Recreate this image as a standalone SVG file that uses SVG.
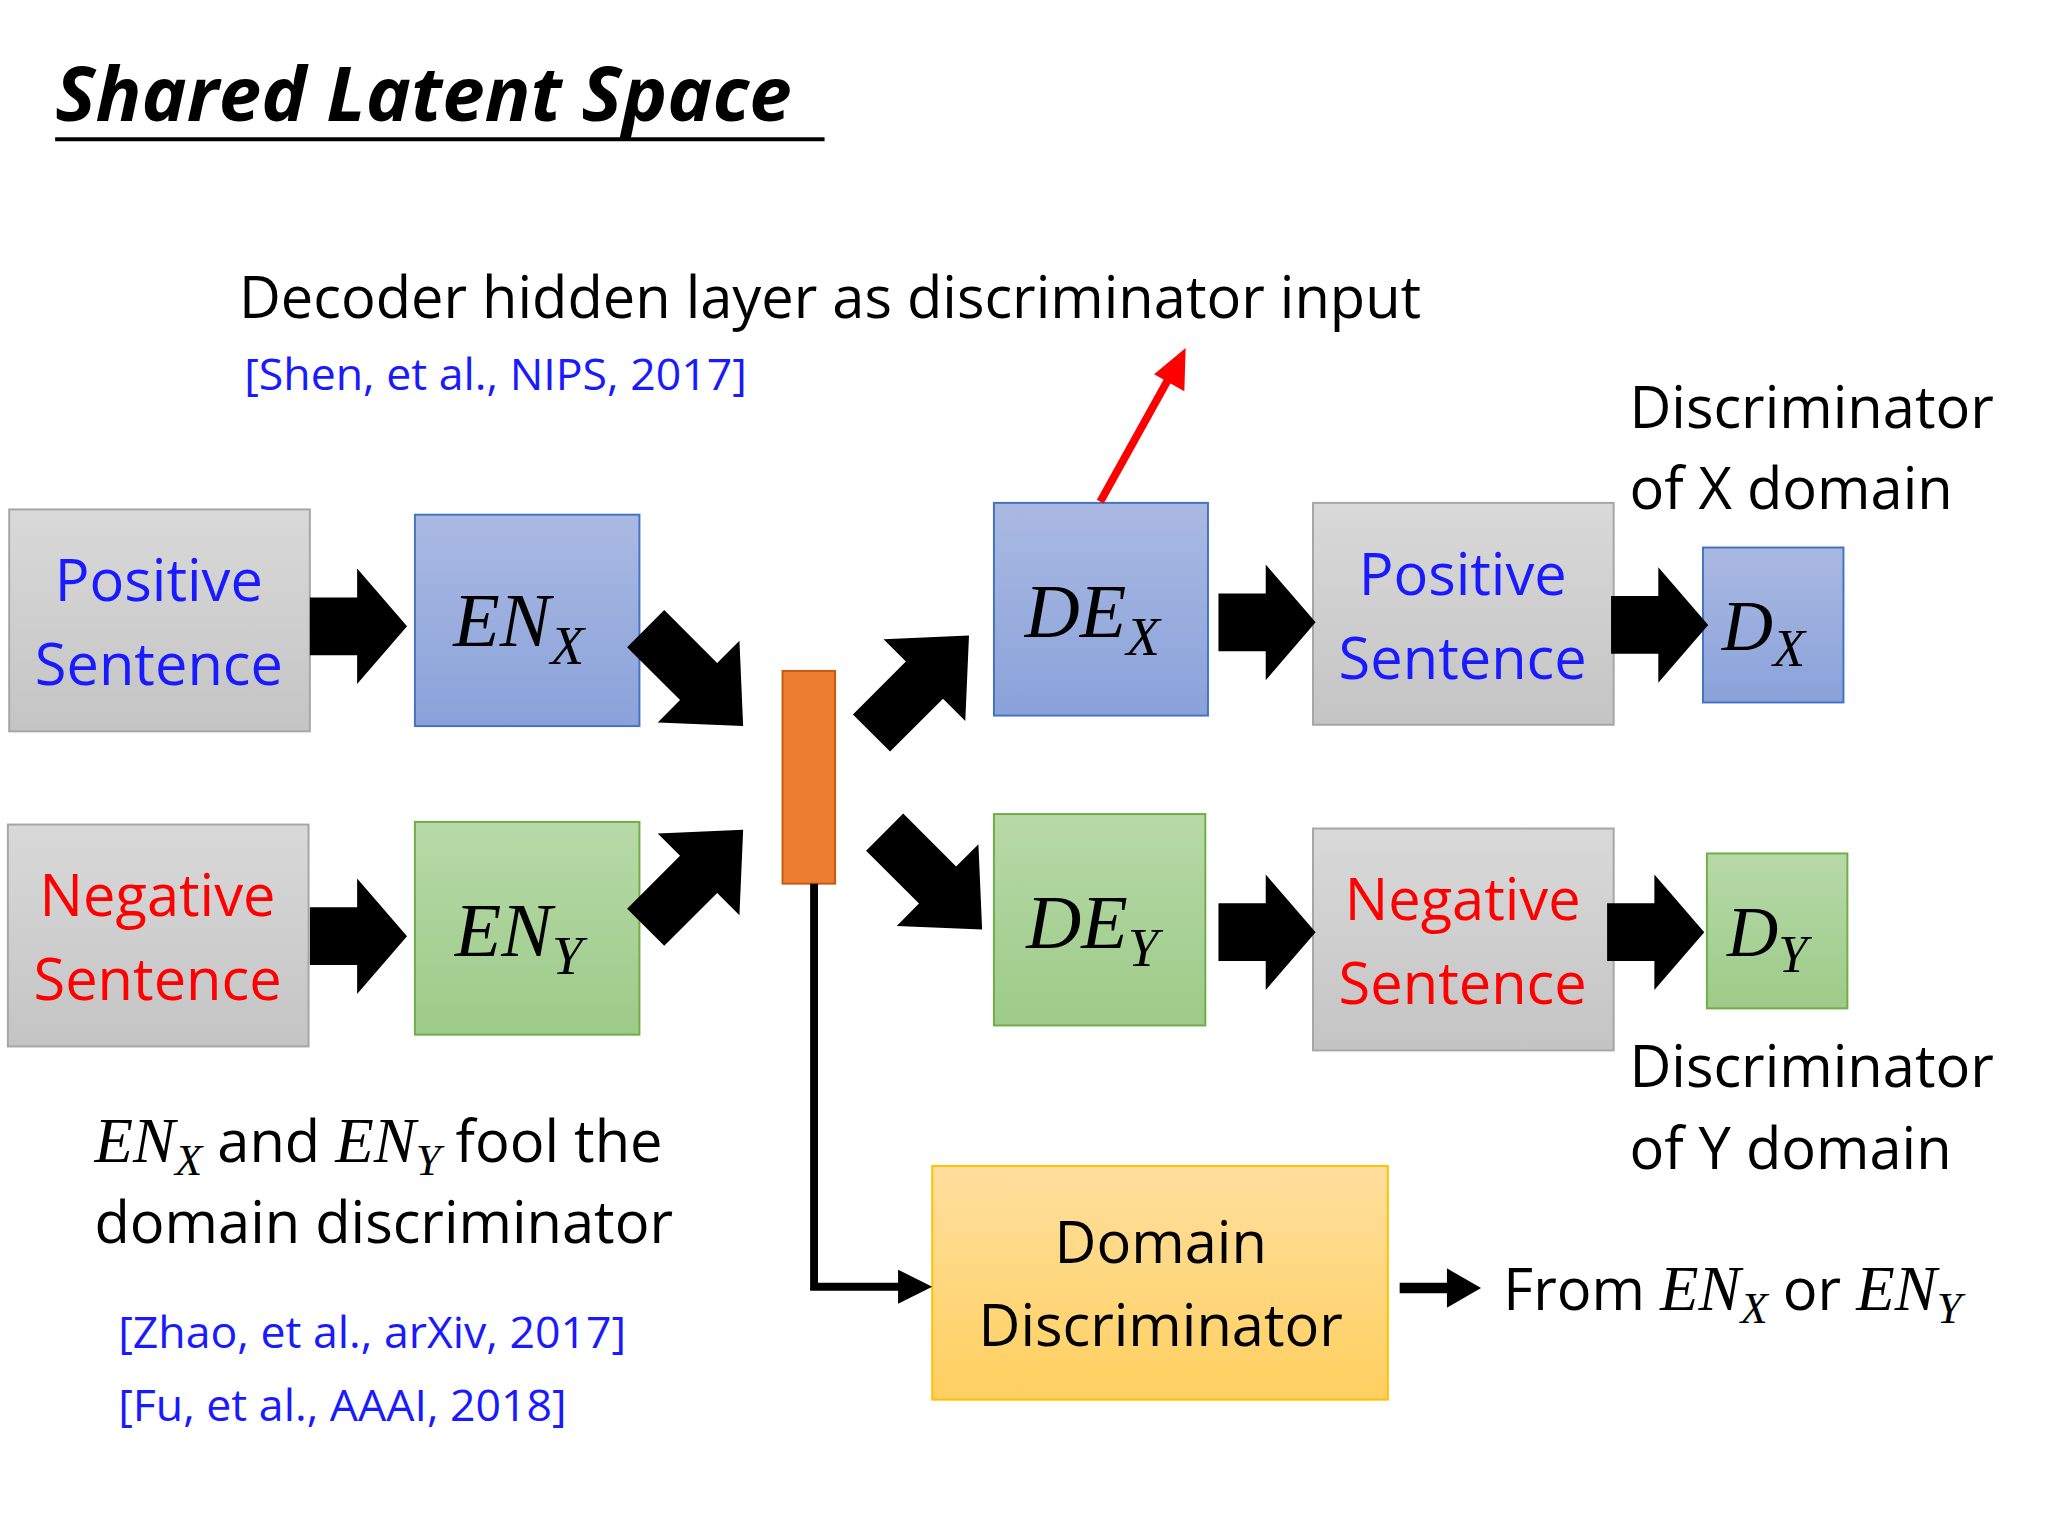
<svg xmlns="http://www.w3.org/2000/svg" width="2048" height="1536" viewBox="0 0 2048 1536">
<defs>
<style>
.t{font-family:"Open Sans","Liberation Sans",sans-serif;fill:#000}
.m{font-family:"Liberation Serif",serif;font-style:italic}
.gray{fill:url(#gg);stroke:#a6a6a6;stroke-width:1.5}
.blue{fill:url(#bg);stroke:#4472c4;stroke-width:1.5}
.green{fill:url(#grg);stroke:#70ad47;stroke-width:1.5}
</style>
<linearGradient id="gg" x1="0" y1="0" x2="0" y2="1"><stop offset="0" stop-color="#d9d9d9"/><stop offset="1" stop-color="#c4c4c4"/></linearGradient>
<linearGradient id="bg" x1="0" y1="0" x2="0" y2="1"><stop offset="0" stop-color="#aab9e2"/><stop offset="1" stop-color="#8aa2da"/></linearGradient>
<linearGradient id="grg" x1="0" y1="0" x2="0" y2="1"><stop offset="0" stop-color="#b7d9a8"/><stop offset="1" stop-color="#9dcb88"/></linearGradient>
<linearGradient id="yg" x1="0" y1="0" x2="0" y2="1"><stop offset="0" stop-color="#ffdf9e"/><stop offset="1" stop-color="#ffcf5f"/></linearGradient>
<polygon id="ha" points="-74,-22 -38,-22 -38,-44 0,0 -38,44 -38,22 -74,22" fill="#000"/>
<polygon id="da" points="-105,-20 -48,-20 -48,-44 0,0 -48,44 -48,20 -105,20" fill="#000"/>
<marker id="ar" markerWidth="8" markerHeight="8" refX="6" refY="4" orient="auto" markerUnits="strokeWidth"><path d="M0,0 L7,4 L0,8 z" fill="#000"/></marker>
</defs>
<rect width="2048" height="1536" fill="#fff"/>
<g transform="scale(1.313)">
<g id="title">
<text x="42" y="92" font-family="Open Sans,Liberation Sans,sans-serif" font-weight="bold" font-style="italic" font-size="58">Shared Latent Space</text>
<line x1="42" y1="106" x2="628" y2="106" stroke="#000" stroke-width="3"/>
</g>
<g id="notes" class="t">
<text x="182" y="242" class="t" font-size="44">Decoder hidden layer as discriminator input</text>
<text x="186" y="297" class="t" font-size="34" style="fill:#1a1aff">[Shen, et al., NIPS, 2017]</text>
<text x="1241" y="326" class="t" font-size="44">Discriminator</text>
<text x="1241" y="388" class="t" font-size="44">of X domain</text>
<text x="1241" y="828" class="t" font-size="44">Discriminator</text>
<text x="1241" y="890" class="t" font-size="44">of Y domain</text>
<text x="72" y="885" class="t" font-size="44"><tspan class="m" font-size="48">EN</tspan><tspan class="m" font-size="34" dy="10">X</tspan><tspan dy="-10"> and </tspan><tspan class="m" font-size="48">EN</tspan><tspan class="m" font-size="34" dy="10">Y</tspan><tspan dy="-10"> fool the</tspan></text>
<text x="72" y="947" class="t" font-size="44">domain discriminator</text>
<text x="90" y="1027" class="t" font-size="34" style="fill:#1a1aff">[Zhao, et al., arXiv, 2017]</text>
<text x="90" y="1082" class="t" font-size="34" style="fill:#1a1aff">[Fu, et al., AAAI, 2018]</text>
<text x="1145" y="998" class="t" font-size="44">From <tspan class="m" font-size="48">EN</tspan><tspan class="m" font-size="34" dy="10">X</tspan><tspan dy="-10"> or </tspan><tspan class="m" font-size="48">EN</tspan><tspan class="m" font-size="34" dy="10">Y</tspan></text>
</g>
<g id="posL"><rect x="7" y="388" width="229" height="169" class="gray"/>
<text x="121" y="458" text-anchor="middle" class="t" font-size="44" style="fill:#1a1aff">Positive</text>
<text x="121" y="522" text-anchor="middle" class="t" font-size="44" style="fill:#1a1aff">Sentence</text></g>
<g id="negL"><rect x="6" y="628" width="229" height="169" class="gray"/>
<text x="120" y="698" text-anchor="middle" class="t" font-size="44" style="fill:#f00">Negative</text>
<text x="120" y="762" text-anchor="middle" class="t" font-size="44" style="fill:#f00">Sentence</text></g>
<g id="enx"><rect x="316" y="392" width="171" height="161" class="blue"/>
<text x="395" y="492" text-anchor="middle" class="m" font-size="58">EN<tspan font-size="42" dy="14">X</tspan></text></g>
<g id="eny"><rect x="316" y="626" width="171" height="162" class="green"/>
<text x="395" y="728" text-anchor="middle" class="m" font-size="58">EN<tspan font-size="42" dy="14">Y</tspan></text></g>
<g id="latent"><rect x="596" y="511" width="40" height="162" fill="#ed7d31" stroke="#c55a11" stroke-width="1.5"/></g>
<g id="dex"><rect x="757" y="383" width="163" height="162" class="blue"/>
<text x="832" y="485" text-anchor="middle" class="m" font-size="58">DE<tspan font-size="42" dy="14">X</tspan></text></g>
<g id="dey"><rect x="757" y="620" width="161" height="161" class="green"/>
<text x="832" y="722" text-anchor="middle" class="m" font-size="58">DE<tspan font-size="42" dy="14">Y</tspan></text></g>
<g id="posR"><rect x="1000" y="383" width="229" height="169" class="gray"/>
<text x="1114" y="453" text-anchor="middle" class="t" font-size="44" style="fill:#1a1aff">Positive</text>
<text x="1114" y="517" text-anchor="middle" class="t" font-size="44" style="fill:#1a1aff">Sentence</text></g>
<g id="negR"><rect x="1000" y="631" width="229" height="169" class="gray"/>
<text x="1114" y="701" text-anchor="middle" class="t" font-size="44" style="fill:#f00">Negative</text>
<text x="1114" y="765" text-anchor="middle" class="t" font-size="44" style="fill:#f00">Sentence</text></g>
<g id="dx"><rect x="1297" y="417" width="107" height="118" class="blue"/>
<text x="1343" y="495" text-anchor="middle" class="m" font-size="54">D<tspan font-size="40" dy="12">X</tspan></text></g>
<g id="dy"><rect x="1300" y="650" width="107" height="118" class="green"/>
<text x="1346" y="728" text-anchor="middle" class="m" font-size="54">D<tspan font-size="40" dy="12">Y</tspan></text></g>
<g id="dd"><rect x="710" y="888" width="347" height="178" fill="url(#yg)" stroke="#ffc000" stroke-width="1.5"/>
<text x="884" y="962" text-anchor="middle" class="t" font-size="44">Domain</text>
<text x="884" y="1025" text-anchor="middle" class="t" font-size="44">Discriminator</text></g>
<g id="connectors">
<use href="#ha" transform="translate(310,477)"/>
<use href="#ha" transform="translate(310,713)"/>
<use href="#ha" transform="translate(1002,474)"/>
<use href="#ha" transform="translate(1002,710)"/>
<use href="#ha" transform="translate(1301,476)"/>
<use href="#ha" transform="translate(1298,710)"/>
<use href="#da" transform="translate(566,553) rotate(45)"/>
<use href="#da" transform="translate(566,632) rotate(-45)"/>
<use href="#da" transform="translate(738,484) rotate(-45)"/>
<use href="#da" transform="translate(748,708) rotate(45)"/>
<line x1="838" y1="382" x2="893" y2="283" stroke="#f00" stroke-width="6"/>
<polygon points="903,265 902,298 879,285" fill="#f00"/>
<polyline points="620,673 620,980 690,980" fill="none" stroke="#000" stroke-width="6"/>
<polygon points="710,980 684,967 684,993" fill="#000"/>
<line x1="1066" y1="981" x2="1108" y2="981" stroke="#000" stroke-width="8"/>
<polygon points="1128,981 1102,966 1102,996" fill="#000"/>
</g>
</g>
</svg>
